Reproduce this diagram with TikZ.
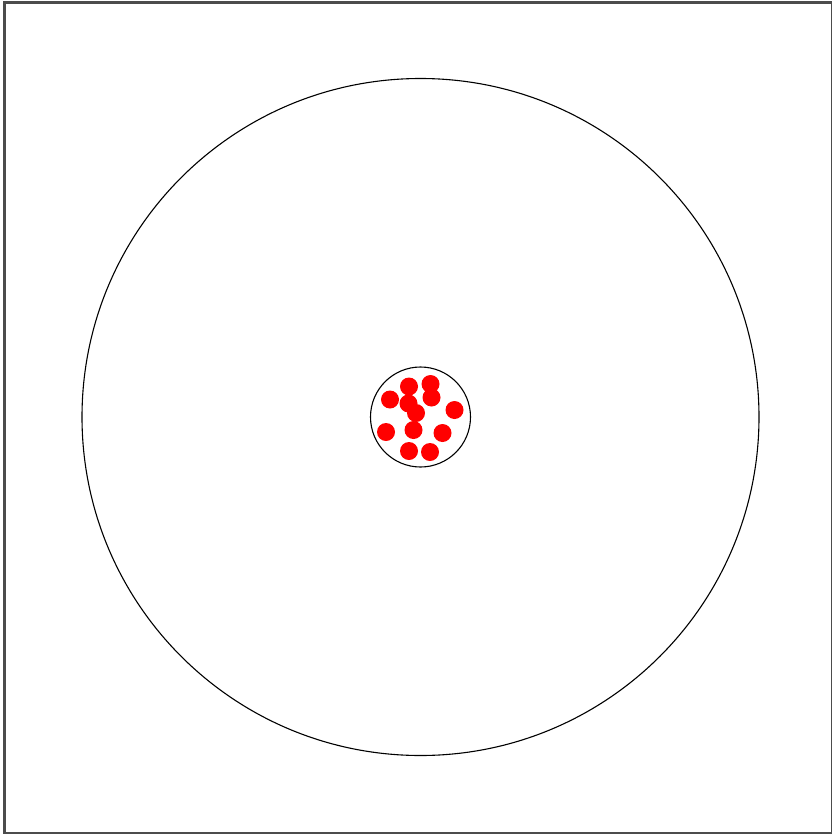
\documentclass[tikz,border=0pt]{standalone}
\begin{document}
\begin{tikzpicture}[x=1pt,y=-1pt,
  frame/.style={draw=black!70,line width=2.2pt},
  ring/.style={draw=black,line width=1.1pt},
  dot/.style={fill=red,draw=none}]
\useasboundingbox (0,0) rectangle (831,835);
\draw[frame] (4.5,2.5) rectangle (832,833);
\node[ring,circle,minimum size=677pt,inner sep=0pt] (outer) at (420.5,417) {};
\node[ring,circle,minimum size=100pt,inner sep=0pt] (inner) at (420.5,417) {};
\foreach \x/\y [count=\i] in {409/386.5,430.5/384,390/399.5,431.5/397.5,408.5/403.5,416/413,454.5/410,386/432,413.5/430,442.5/433,409/451,430/452}
  \fill[dot] (\x,\y) circle (9);
\end{tikzpicture}
\end{document}
